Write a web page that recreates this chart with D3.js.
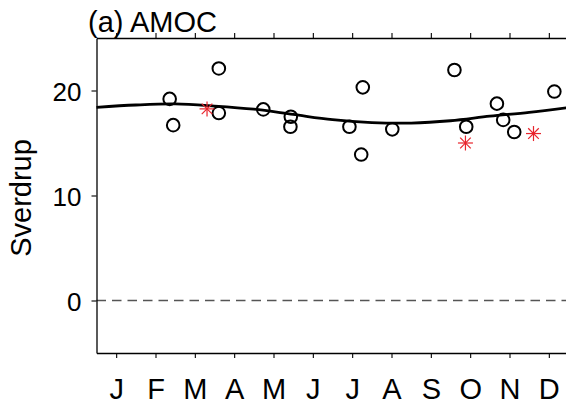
<!DOCTYPE html>
<html>
<head>
<meta charset="utf-8">
<script src="https://cdn.jsdelivr.net/npm/d3@7"></script>
<style>
  html, body { margin: 0; padding: 0; background: #fff; }
  svg { display: block; }
  text { font-family: "Liberation Sans", Arial, Helvetica, sans-serif; fill: #000; }
</style>
</head>
<body>
<svg id="chart" width="566" height="404"></svg>
<script>
// Month labels along the bottom axis
const monthLabels = ["J", "F", "M", "A", "M", "J", "J", "A", "S", "O", "N", "D"];
const yTickValues = [0, 10, 20];

// Individual estimates (open circles): position in months, value in Sverdrup
const obsMonth = [1.86, 1.95, 3.11, 3.11, 4.24, 4.94, 4.93, 6.43, 6.77, 6.73, 7.52, 9.10, 9.40, 10.18, 10.34, 10.62, 11.64];
const obsValue = [19.2, 16.7, 22.1, 17.85, 18.2, 17.5, 16.55, 16.55, 20.3, 13.9, 16.3, 21.95, 16.55, 18.75, 17.2, 16.05, 19.9];

// Highlighted estimates (red asterisks)
const starMonth = [2.81, 9.38, 11.11];
const starValue = [18.25, 15.0, 15.9];

// Seasonal cycle fit
const fitMonth = [0, 1, 2, 3, 4, 5, 6, 7, 8, 9, 10, 11, 12];
const fitValue = [18.4, 18.62, 18.72, 18.52, 18.22, 17.72, 17.22, 16.95, 16.9, 17.12, 17.55, 17.92, 18.38];

const svg = d3.select("#chart");
const plotLeft = 96.5, plotTop = 38, plotBottom = 353;

const x = d3.scaleLinear().domain([0, 12]).range([plotLeft, 568.5]);
const y = d3.scaleLinear().domain([-5, 25]).range([plotBottom, plotTop]);
const monthCentres = monthLabels.map((d, i) => i + 0.5);

// Zero reference line
svg.append("line")
  .attr("x1", x(0)).attr("x2", x(12))
  .attr("y1", y(0)).attr("y2", y(0))
  .attr("stroke", "#555").attr("stroke-width", 1.5)
  .attr("stroke-dasharray", "9.5,6");

// Axes
const axisLeft = d3.axisLeft(y).tickValues(yTickValues).tickSize(5).tickSizeOuter(0).tickPadding(10);
const gL = svg.append("g").attr("transform", `translate(${plotLeft},0)`).call(axisLeft);

const axisBottom = d3.axisBottom(x).tickValues(monthCentres).tickSize(5).tickSizeOuter(0)
  .tickPadding(20).tickFormat((d, i) => monthLabels[i]);
const gB = svg.append("g").attr("transform", `translate(0,${plotBottom})`).call(axisBottom);

const axisTop = d3.axisTop(x).tickValues(monthCentres).tickSize(5).tickSizeOuter(0).tickFormat("");
const gT = svg.append("g").attr("transform", `translate(0,${plotTop})`).call(axisTop);

[gL, gB, gT].forEach(g => {
  g.select(".domain").attr("stroke", "#000").attr("stroke-width", 1.3);
  g.selectAll(".tick line").attr("stroke", "#000").attr("stroke-width", 1.1);
  g.selectAll("text").attr("font-family", "Liberation Sans, Arial, sans-serif").attr("fill", "#000");
});
gL.selectAll("text").attr("font-size", 26).attr("dy", "0.38em");
gB.selectAll("text").attr("font-size", 29);

// Fitted seasonal cycle
const line = d3.line()
  .x((d, i) => x(fitMonth[i]))
  .y(d => y(d))
  .curve(d3.curveCatmullRom.alpha(0.5));
svg.append("path")
  .datum(fitValue)
  .attr("d", line)
  .attr("fill", "none")
  .attr("stroke", "#000")
  .attr("stroke-width", 2.8);

// Open circles
svg.append("g").selectAll("circle")
  .data(obsValue)
  .join("circle")
  .attr("cx", (d, i) => x(obsMonth[i]))
  .attr("cy", d => y(d))
  .attr("r", 6.3)
  .attr("fill", "none")
  .attr("stroke", "#000")
  .attr("stroke-width", 2);

// Red asterisks
const starR = 7.5;
const star = svg.append("g").selectAll("g")
  .data(starValue)
  .join("g")
  .attr("transform", (d, i) => `translate(${x(starMonth[i])},${y(d)})`);
[0, 45, 90, 135].forEach(a => {
  const r = a * Math.PI / 180;
  star.append("line")
    .attr("x1", -starR * Math.cos(r)).attr("y1", -starR * Math.sin(r))
    .attr("x2", starR * Math.cos(r)).attr("y2", starR * Math.sin(r))
    .attr("stroke", "#e8242c").attr("stroke-width", 1.2);
});

// Title and y-axis label
svg.append("text")
  .attr("x", 88).attr("y", 32)
  .attr("font-size", 29)
  .text("(a) AMOC");

svg.append("text")
  .attr("transform", "translate(31,198) rotate(-90)")
  .attr("text-anchor", "middle")
  .attr("font-size", 29)
  .text("Sverdrup");
</script>
</body>
</html>
